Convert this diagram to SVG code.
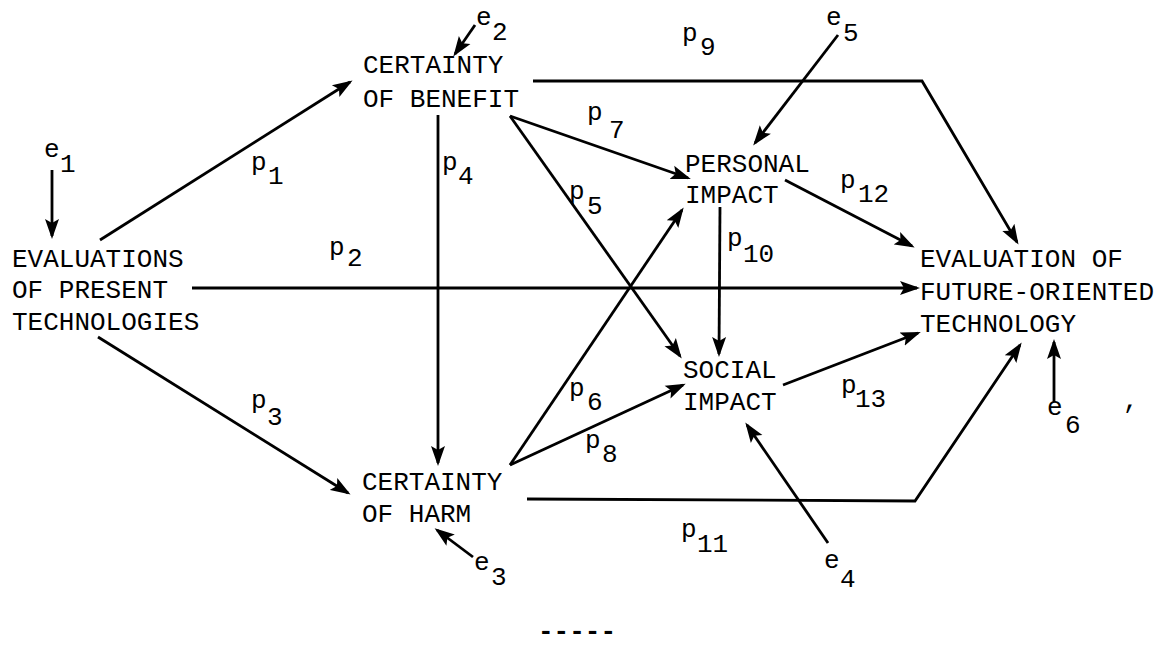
<svg xmlns="http://www.w3.org/2000/svg" width="1166" height="646" viewBox="0 0 1166 646">
<defs>
<marker id="ah" viewBox="0 0 20 16" refX="17" refY="8" markerWidth="20" markerHeight="16" markerUnits="userSpaceOnUse" orient="auto">
<path d="M0,1 L20,8 L0,15 L4,8 z" fill="#000"/>
</marker>
<style>
text{font-family:"Liberation Mono","Courier New",monospace;font-size:26px;fill:#000}
.c{fill:none;stroke:#000;stroke-width:2.8;stroke-linejoin:miter}
.a{marker-end:url(#ah)}
</style>
</defs>
<rect width="1166" height="646" fill="#fff"/>
<g id="connectors">
<line class="c a" x1="52" y1="170" x2="52" y2="236"/>
<line class="c a" x1="100" y1="240" x2="350" y2="82"/>
<line class="c a" x1="475" y1="25" x2="455" y2="54"/>
<polyline class="c a" points="533,81 922,81 1017,242"/>
<line class="c a" x1="510" y1="116" x2="688" y2="178"/>
<line class="c a" x1="510" y1="116" x2="680" y2="356"/>
<line class="c a" x1="838" y1="35" x2="755" y2="143"/>
<line class="c a" x1="438" y1="115" x2="438" y2="463"/>
<line class="c a" x1="510" y1="465" x2="682" y2="210"/>
<line class="c a" x1="510" y1="465" x2="683" y2="385"/>
<line class="c a" x1="720" y1="207" x2="719" y2="354"/>
<line class="c a" x1="785" y1="180" x2="912" y2="246"/>
<line class="c a" x1="192" y1="288" x2="917" y2="288"/>
<line class="c a" x1="783" y1="385" x2="918" y2="333"/>
<polyline class="c a" points="527,499 915,501 1020,345"/>
<line class="c a" x1="828" y1="543" x2="747" y2="425"/>
<line class="c a" x1="1054" y1="402" x2="1054" y2="342"/>
<line class="c a" x1="473" y1="557" x2="437" y2="530"/>
<line class="c a" x1="98" y1="337" x2="348" y2="493"/>
</g>
<g id="evaluations-present">
<text x="12" y="267">EVALUATIONS</text>
<text x="12" y="298">OF PRESENT</text>
<text x="12" y="330">TECHNOLOGIES</text>
</g>
<g id="certainty-benefit">
<text x="363" y="73">CERTAINTY</text>
<text x="363" y="107">OF BENEFIT</text>
</g>
<g id="personal-impact">
<text x="685" y="172">PERSONAL</text>
<text x="685" y="203">IMPACT</text>
</g>
<g id="social-impact">
<text x="683" y="378">SOCIAL</text>
<text x="683" y="410">IMPACT</text>
</g>
<g id="evaluation-future">
<text x="920" y="267">EVALUATION OF</text>
<text x="920" y="300">FUTURE-ORIENTED</text>
<text x="920" y="332">TECHNOLOGY</text>
</g>
<g id="certainty-harm">
<text x="362" y="490">CERTAINTY</text>
<text x="362" y="522">OF HARM</text>
</g>
<g id="labels">
<text x="44" y="157">e<tspan x="60" y="172">1</tspan></text>
<text x="476" y="25">e<tspan x="492" y="40">2</tspan></text>
<text x="826" y="25">e<tspan x="843" y="41">5</tspan></text>
<text x="474" y="570">e<tspan x="491" y="585">3</tspan></text>
<text x="824" y="568">e<tspan x="840" y="587">4</tspan></text>
<text x="1047" y="415">e<tspan x="1065" y="433">6</tspan></text>
<text x="251" y="170">p<tspan x="268" y="184">1</tspan></text>
<text x="329" y="255">p<tspan x="347" y="266">2</tspan></text>
<text x="251" y="408">p<tspan x="267" y="425">3</tspan></text>
<text x="442" y="170">p<tspan x="458" y="184">4</tspan></text>
<text x="569" y="199">p<tspan x="587" y="214">5</tspan></text>
<text x="569" y="396">p<tspan x="587" y="410">6</tspan></text>
<text x="587" y="120">p<tspan x="609" y="138">7</tspan></text>
<text x="585" y="448">p<tspan x="602" y="462">8</tspan></text>
<text x="682" y="41">p<tspan x="700" y="55">9</tspan></text>
<text x="727" y="246">p<tspan x="743" y="262">10</tspan></text>
<text x="681" y="537">p<tspan x="697" y="552">11</tspan></text>
<text x="840" y="188">p<tspan x="858" y="202">12</tspan></text>
<text x="841" y="393">p<tspan x="855" y="407">13</tspan></text>
<text x="1123" y="408">,</text>
<text x="538" y="639" font-weight="bold">-----</text>
</g>
</svg>
